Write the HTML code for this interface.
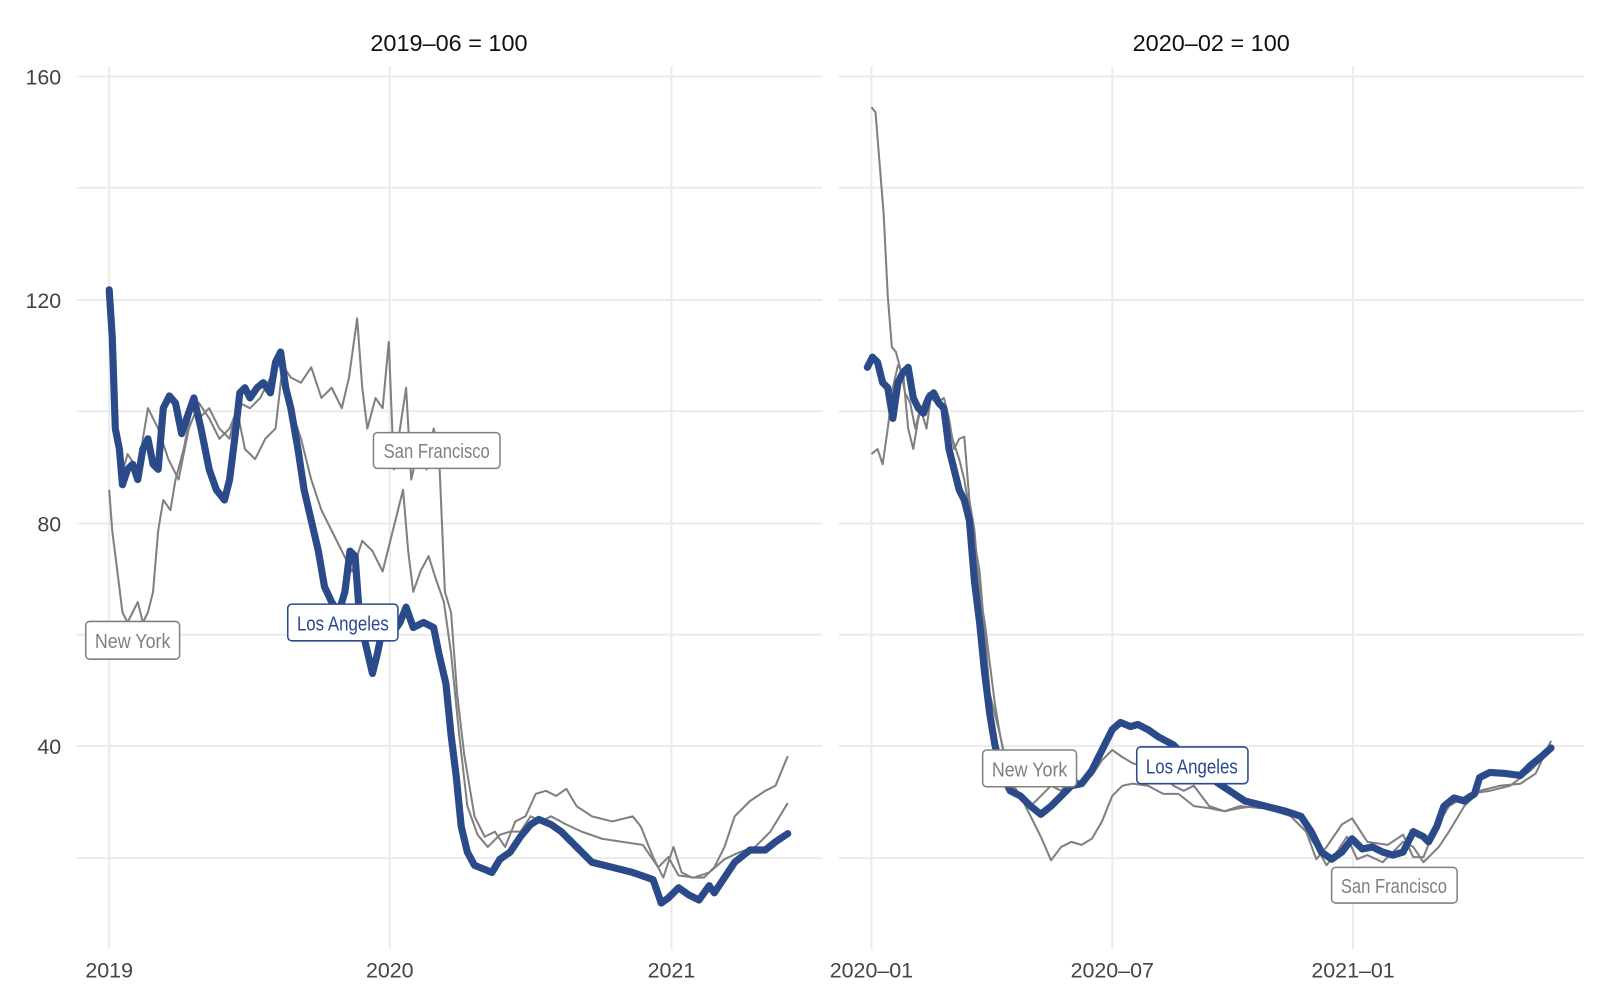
<!DOCTYPE html>
<html><head><meta charset="utf-8"><style>
html,body{margin:0;padding:0;background:#fff}
svg{display:block}
text{font-family:"Liberation Sans",sans-serif}
.t{font-size:21px;fill:#444}
.ti{font-size:23px;fill:#111;text-anchor:middle}
.lb{font-family:"Liberation Sans Narrow","Liberation Sans",sans-serif;font-size:20px;text-anchor:middle}
</style></head><body>
<svg width="1600" height="1000" viewBox="0 0 1568 980" xmlns="http://www.w3.org/2000/svg">
<g stroke="#ebebeb" stroke-width="2" fill="none">
<path d="M75 75H806M75 184H806M75 294H806M75 403H806M75 513H806M75 622H806M75 731H806M75 841H806"/>
<path d="M822 75H1552M822 184H1552M822 294H1552M822 403H1552M822 513H1552M822 622H1552M822 731H1552M822 841H1552"/>
<path d="M107 65V930M382 65V930M658 65V930M854 65V930M1090 65V930M1326 65V930"/>
</g>
<text class="ti" x="440" y="50">2019–06 = 100</text>
<text class="ti" x="1187" y="50">2020–02 = 100</text>
<g class="t" text-anchor="end">
<text x="60" y="83">160</text><text x="60" y="302">120</text><text x="60" y="521">80</text><text x="60" y="739">40</text>
</g>
<g class="t" text-anchor="middle">
<text x="107" y="958">2019</text><text x="382" y="958">2020</text><text x="658" y="958">2021</text>
<text x="854" y="958">2020–01</text><text x="1090" y="958">2020–07</text><text x="1326" y="958">2021–01</text>
</g>
<g fill="none" stroke="#808080" stroke-width="2" stroke-linejoin="round">
<polyline points="107,284 112,400 118,470 125,445 135,460 145,400 155,420 165,450 175,470 185,420 195,395 205,410 215,430 225,420 235,395 245,400 255,390 265,370 275,355 285,370 295,375 305,360 315,390 325,380 335,400 342,370 350,312 355,380 360,420 368,390 375,400 381,335 386,460 392,420 398,380 403,470 410,440 418,460 425,420 430,440 436,580 442,600 448,680 455,740 465,800 475,820 485,815 495,830 505,805 515,800 525,778 535,775 545,780 555,773 565,790 580,800 600,805 620,800 628,810 640,840 650,860 660,830 668,855 678,860 690,860 700,850 710,830 720,800 735,785 750,775 760,770 772,741"/>
<polyline points="107,480 110,520 115,560 120,600 125,610 130,600 135,590 140,610 145,600 150,580 155,520 160,490 167,500 172,470 180,440 188,400 195,410 205,400 215,420 225,430 232,400 240,440 250,450 260,430 270,420 278,350 285,400 295,430 305,470 315,500 325,520 335,540 345,560 355,530 365,540 375,560 385,520 395,480 400,540 405,580 412,560 420,545 428,570 435,590 442,640 450,720 458,790 468,818 478,830 490,818 500,815 510,815 520,800 530,805 540,800 555,808 570,815 590,822 610,825 630,828 645,850 655,840 665,858 680,860 695,855 710,842 725,835 740,830 755,815 772,787"/>
<polyline points="854,105 858,110 862,160 866,210 870,290 874,340 878,345 882,360 887,385 892,395 897,420 902,400 908,420 912,390 918,395 925,390 930,410 935,440 940,430 945,428 950,490 955,520 960,580 965,610 970,650 975,690 980,720 990,765 1000,780 1010,800 1020,820 1030,843 1040,830 1050,825 1060,828 1070,822 1080,805 1090,780 1100,770 1110,768 1125,770 1140,778 1155,778 1170,790 1185,792 1200,795 1215,792 1230,790 1250,795 1265,800 1280,815 1290,830 1300,848 1310,835 1320,820 1330,842 1340,838 1355,845 1365,835 1375,825 1385,830 1395,845 1410,830 1420,815 1435,790 1450,775 1470,770 1490,768 1505,758 1520,726"/>
<polyline points="854,445 860,440 865,455 870,420 875,380 880,358 885,365 890,420 895,440 900,410 905,395 910,385 920,390 930,420 940,450 945,470 950,500 955,530 960,560 965,620 970,680 980,720 990,770 1000,780 1010,790 1020,780 1030,770 1040,775 1050,760 1060,768 1070,760 1080,745 1090,735 1100,742 1110,748 1125,752 1140,760 1150,770 1160,775 1170,770 1185,790 1200,795 1215,790 1235,792 1250,790 1265,800 1280,815 1290,842 1300,830 1315,808 1325,802 1340,825 1360,828 1375,818 1385,840 1395,840 1405,815 1420,790 1440,778 1460,775 1480,770 1500,755 1520,735"/>
</g>
<g fill="none" stroke="#2a4a8a" stroke-width="7" stroke-linejoin="round" stroke-linecap="round">
<polyline points="107,284 110,330 113,420 117,440 120,475 125,460 130,455 135,470 140,440 145,430 150,455 155,460 160,400 166,388 172,395 178,425 183,410 190,390 197,420 205,460 212,480 220,490 225,470 230,430 235,385 240,380 245,390 252,380 258,375 265,385 270,355 275,345 280,380 285,400 292,440 298,480 305,510 312,540 318,575 325,590 332,600 338,580 343,540 348,545 352,600 358,630 365,660 370,640 378,600 385,620 392,610 398,595 405,615 415,610 425,615 430,640 437,670 442,720 447,760 452,810 458,835 465,848 475,852 482,855 490,842 500,835 510,820 520,808 528,803 540,808 550,815 565,830 580,845 600,850 620,855 640,862 648,885 655,880 665,870 675,877 685,882 695,868 700,875 710,860 720,845 735,833 750,833 760,825 772,817"/>
<polyline points="850,360 855,350 860,355 865,375 870,380 875,410 880,375 885,365 890,360 895,390 900,400 905,405 910,390 915,385 920,395 925,400 930,440 935,460 940,480 945,490 950,510 955,570 960,610 965,660 970,700 975,730 980,750 985,765 990,775 1000,780 1010,790 1020,798 1030,790 1040,780 1050,770 1060,768 1070,755 1080,735 1090,715 1098,708 1108,712 1115,710 1125,715 1135,722 1150,730 1160,740 1175,755 1190,765 1205,775 1220,785 1240,790 1260,795 1275,800 1285,815 1295,835 1305,842 1315,835 1325,822 1335,832 1345,830 1355,835 1365,838 1375,835 1385,815 1395,820 1400,825 1408,810 1415,790 1425,782 1435,785 1445,778 1450,762 1460,757 1475,758 1490,760 1500,750 1510,742 1520,733"/>
</g>
<g stroke-width="1.5">
<rect x="84" y="609" width="92" height="37" rx="4" fill="#fff" stroke="#808080"/>
<text class="lb" x="130" y="635" fill="#808080" textLength="74" lengthAdjust="spacingAndGlyphs">New York</text>
<rect x="282" y="592" width="108" height="36" rx="4" fill="#fff" stroke="#2a4a8a"/>
<text class="lb" x="336" y="618" fill="#2a4a8a" textLength="90" lengthAdjust="spacingAndGlyphs">Los Angeles</text>
<rect x="366" y="424" width="124" height="35" rx="4" fill="#fff" stroke="#808080"/>
<text class="lb" x="428" y="449" fill="#808080" textLength="104" lengthAdjust="spacingAndGlyphs">San Francisco</text>
<rect x="963" y="735" width="92" height="36" rx="4" fill="#fff" stroke="#808080"/>
<text class="lb" x="1009" y="761" fill="#808080" textLength="74" lengthAdjust="spacingAndGlyphs">New York</text>
<rect x="1114" y="732" width="109" height="36" rx="4" fill="#fff" stroke="#2a4a8a"/>
<text class="lb" x="1168" y="758" fill="#2a4a8a" textLength="90" lengthAdjust="spacingAndGlyphs">Los Angeles</text>
<rect x="1305" y="850" width="123" height="35" rx="4" fill="#fff" stroke="#808080"/>
<text class="lb" x="1366" y="875" fill="#808080" textLength="104" lengthAdjust="spacingAndGlyphs">San Francisco</text>
</g>
</svg>
</body></html>
